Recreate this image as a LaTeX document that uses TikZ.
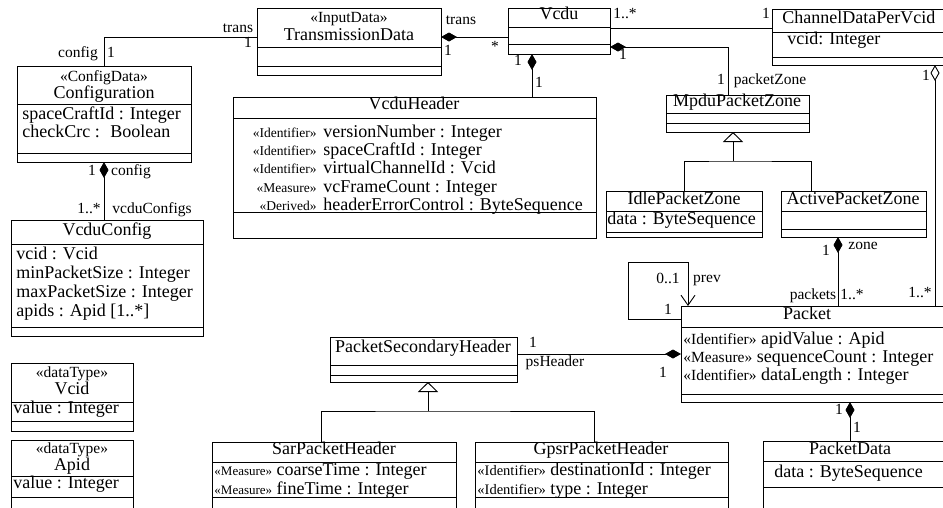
\documentclass[tikz,border=0pt]{standalone}
\usepackage{fontspec}
\setmainfont{Liberation Serif}
\usetikzlibrary{arrows.meta}

% class box: name, left, top, right, bottom (pixel-style coordinates, y downwards)
\newcommand\umlclass[5]{%
  \node[umlbox, minimum width={#4pt-#2pt}, minimum height={#5pt-#3pt}] (#1) at (#2,#3) {};}
% horizontal compartment rule inside a class box
\newcommand\umlrule[2]{\draw (#1.west |- 0,#2) -- (#1.east |- 0,#2);}
% association end label
\newcommand\rolelab[4]{\node[lbl] (#1) at (#2,#3) {#4};}

\begin{document}
\begin{tikzpicture}[x=1pt, y=-1pt, line width=0.9pt,
  umlbox/.style={draw, anchor=north west, inner sep=0pt, outer sep=0pt},
  cname/.style={inner sep=0pt, anchor=mid, font=\fontsize{18}{18}\selectfont},
  cnamel/.style={inner sep=0pt, anchor=mid west, font=\fontsize{18}{18}\selectfont},
  stereo/.style={inner sep=0pt, anchor=mid, font=\fontsize{15.5}{15.5}\selectfont},
  attr/.style={inner sep=0pt, anchor=mid west, font=\fontsize{18}{18}\selectfont},
  vstereo/.style={inner sep=0pt, anchor=mid east, font=\fontsize{13.5}{13.5}\selectfont},
  lbl/.style={inner sep=0pt, anchor=mid, font=\fontsize{15.5}{15.5}\selectfont},
  compo/.style={arrows={Diamond[length=16pt,width=9pt]-}},
  aggr/.style={arrows={Diamond[open,length=16pt,width=9pt]-}},
  genl/.style={arrows={-Triangle[open,length=10pt,width=20pt]}},
  navi/.style={arrows={-Straight Barb[length=10pt,width=14pt]}}]

\useasboundingbox (0,0) rectangle (943,507);
\clip (0,0) rectangle (943,507);

% ---------- class boxes ----------
\umlclass{td}{257}{8}{441}{75}
\umlrule{td}{47}\umlrule{td}{66}
\node[stereo] (tdst) at (349,20) {«InputData»};
\node[cname] (tdnm) at (349,38) {TransmissionData};

\umlclass{vcdu}{508}{8}{610}{54}
\umlrule{vcdu}{27}\umlrule{vcdu}{44}
\node[cname] (vcdunm) at (559,17) {Vcdu};

\umlclass{cdpv}{772}{9}{960}{65}
\umlrule{cdpv}{32}\umlrule{cdpv}{57}
\node[cnamel] (cdpvnm) at (782,21) {ChannelDataPerVcid};
\node[attr] (cdpva1) at (787,42) {vcid: Integer};

\umlclass{cfg}{17}{66}{191}{162}
\umlrule{cfg}{104}\umlrule{cfg}{153}
\node[stereo] (cfgst) at (104,79) {«ConfigData»};
\node[cname] (cfgnm) at (104,96) {Configuration};
\node[attr] (cfga1) at (22,117) {spaceCraftId : Integer};
\node[attr] (cfga2) at (22,135) {checkCrc : \ Boolean};

\umlclass{vhdr}{233}{97}{596}{238}
\umlrule{vhdr}{118}\umlrule{vhdr}{212}
\node[cname] (vhdrnm) at (414,107) {VcduHeader};
\node[vstereo] (vhs1) at (317,135) {«Identifier»};
\node[vstereo] (vhs2) at (317,153) {«Identifier»};
\node[vstereo] (vhs3) at (317,171) {«Identifier»};
\node[vstereo] (vhs4) at (317,190) {«Measure»};
\node[vstereo] (vhs5) at (317,208) {«Derived»};
\node[attr] (vha1) at (323,135) {versionNumber : Integer};
\node[attr] (vha2) at (323,153) {spaceCraftId : Integer};
\node[attr] (vha3) at (323,171) {virtualChannelId : Vcid};
\node[attr] (vha4) at (323,190) {vcFrameCount : Integer};
\node[attr] (vha5) at (323,208) {headerErrorControl : ByteSequence};

\umlclass{mpz}{666}{95}{809}{132}
\umlrule{mpz}{113}\umlrule{mpz}{123}
\node[cname] (mpznm) at (737,104) {MpduPacketZone};

\umlclass{idle}{606}{191}{762}{237}
\umlrule{idle}{211}\umlrule{idle}{232}
\node[cname] (idlenm) at (684,202) {IdlePacketZone};
\node[attr] (idlea1) at (607,222) {data : ByteSequence};

\umlclass{active}{781}{191}{926}{237}
\umlrule{active}{211}\umlrule{active}{229}
\node[cname] (activenm) at (853,202) {ActivePacketZone};

\umlclass{vcfg}{11}{220}{203}{336}
\umlrule{vcfg}{244}\umlrule{vcfg}{327}
\node[cname] (vcfgnm) at (107,233) {VcduConfig};
\node[attr] (vcfga1) at (16,257) {vcid : Vcid};
\node[attr] (vcfga2) at (16,276) {minPacketSize : Integer};
\node[attr] (vcfga3) at (16,295) {maxPacketSize : Integer};
\node[attr] (vcfga4) at (16,314) {apids : Apid [1..*]};

\umlclass{vcid}{11}{363}{133}{431}
\umlrule{vcid}{402}\umlrule{vcid}{421}
\node[stereo] (vcidst) at (72,375.5) {«dataType»};
\node[cname] (vcidnm) at (72,392) {Vcid};
\node[attr] (vcida1) at (13,411) {value : Integer};

\umlclass{apid}{11}{440}{133}{530}
\umlrule{apid}{476}\umlrule{apid}{497}
\node[stereo] (apidst) at (72,451.5) {«dataType»};
\node[cname] (apidnm) at (72,468) {Apid};
\node[attr] (apida1) at (13,486) {value : Integer};

\umlclass{packet}{681}{306}{960}{402}
\umlrule{packet}{327}\umlrule{packet}{394}
\node[cname] (packetnm) at (807,317) {Packet};
\node[attr] (pka1) at (683,342) {{\fontsize{15.5}{15.5}\selectfont «Identifier»} apidValue : Apid};
\node[attr] (pka2) at (683,360) {{\fontsize{15.5}{15.5}\selectfont «Measure»} sequenceCount : Integer};
\node[attr] (pka3) at (683,378) {{\fontsize{15.5}{15.5}\selectfont «Identifier»} dataLength : Integer};

\umlclass{psh}{330}{337}{517}{382}
\umlrule{psh}{365}\umlrule{psh}{375}
\node[cname] (pshnm) at (423,350) {PacketSecondaryHeader};

\umlclass{sar}{212}{442}{456}{530}
\umlrule{sar}{462}\umlrule{sar}{497}
\node[cname] (sarnm) at (334,452) {SarPacketHeader};
\node[attr] (sara1) at (214,473) {{\fontsize{13}{13}\selectfont «Measure»} coarseTime : Integer};
\node[attr] (sara2) at (214,492) {{\fontsize{13}{13}\selectfont «Measure»} fineTime : Integer};

\umlclass{gpsr}{475}{442}{728}{530}
\umlrule{gpsr}{462}\umlrule{gpsr}{497}
\node[cname] (gpsrnm) at (601,452) {GpsrPacketHeader};
\node[attr] (gpsra1) at (477,473) {{\fontsize{14.5}{14.5}\selectfont «Identifier»} destinationId : Integer};
\node[attr] (gpsra2) at (477,492) {{\fontsize{14.5}{14.5}\selectfont «Identifier»} type : Integer};

\umlclass{pdata}{763}{441}{960}{530}
\umlrule{pdata}{461}\umlrule{pdata}{487}
\node[cname] (pdatanm) at (850,452) {PacketData};
\node[attr] (pdataa1) at (774,475) {data : ByteSequence};

% ---------- associations ----------
\draw (cfg.north) |- (td.west |- 0,37);
\rolelab{e1}{238}{30}{trans}
\rolelab{e2}{248}{45}{1}
\rolelab{e3}{78}{55}{config}
\rolelab{e4}{111}{55}{1}

\draw[compo] (td.east |- 0,37) -- (vcdu.west |- 0,37);
\rolelab{e5}{461}{22}{trans}
\rolelab{e6}{448}{53}{1}
\rolelab{e7}{495}{49}{*}

\draw (vcdu.east |- 0,28) -- (cdpv.west |- 0,28);
\rolelab{e8}{625}{16}{1..*}
\rolelab{e9}{766}{16}{1}

\draw[compo] (vcdu.east |- 0,47) -| (mpz.north -| 728,0);
\rolelab{e10}{623}{57}{1}
\rolelab{e11}{721}{82}{1}
\rolelab{e12}{770}{82}{packetZone}

\draw[compo] (vcdu.south -| 532,0) -- (vhdr.north -| 532,0);
\rolelab{e13}{518}{63}{1}
\rolelab{e14}{539}{85}{1}

\draw[compo] (cfg.south) -- (vcfg.north -| cfg.south);
\rolelab{e15}{92}{173}{1}
\rolelab{e16}{131}{173}{config}
\rolelab{e17}{89}{211}{1..*}
\rolelab{e18}{152}{211}{vcduConfigs}

\draw[aggr] (cdpv.south -| 935,0) -- (packet.north -| 935,0);
\rolelab{e19}{926}{78}{1}
\rolelab{e20}{920}{295}{1..*}

\draw[compo] (active.south -| 838,0) -- (packet.north -| 838,0);
\rolelab{e21}{826}{253}{1}
\rolelab{e22}{863}{247}{zone}
\rolelab{e23}{813}{297}{packets}
\rolelab{e24}{852}{297}{1..*}

\coordinate (loopc) at (628,262);
\draw[navi] (packet.west |- 0,319) -| (loopc) -| (packet.north -| 688,0);
\rolelab{e25}{668}{281}{0..1}
\rolelab{e26}{707}{280}{prev}
\rolelab{e27}{668}{312}{1}

\draw[compo] (packet.west |- 0,354) -- (psh.east |- 0,354);
\rolelab{e28}{533}{345}{1}
\rolelab{e29}{555}{364}{psHeader}
\rolelab{e30}{663}{375}{1}

\draw[compo] (packet.south -| 850,0) -- (pdata.north -| 850,0);
\rolelab{e31}{839}{412}{1}
\rolelab{e32}{857}{430}{1}

% ---------- generalizations ----------
\coordinate (mpzj) at (733,161);
\draw[genl] (mpzj) -- (mpz.south -| mpzj);
\draw (idle.north) |- (mpzj) -| (active.north -| 811,0);

\coordinate (pshj) at (428,411);
\draw[genl] (pshj) -- (psh.south -| pshj);
\draw (sar.north -| 321,0) |- (pshj) -| (gpsr.north -| 594,0);

\end{tikzpicture}
\end{document}
